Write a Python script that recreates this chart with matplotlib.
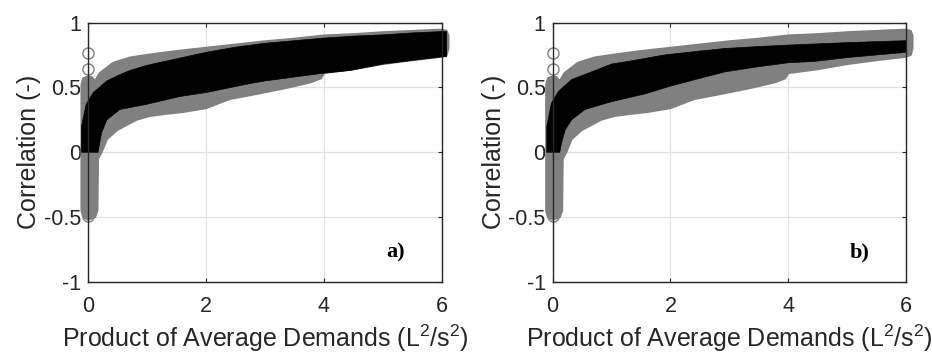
import numpy as np
import matplotlib
matplotlib.use('Agg')
import matplotlib.pyplot as plt

plt.rcParams['font.family'] = ['Liberation Sans', 'DejaVu Sans']
plt.rcParams['mathtext.default'] = 'regular'

# envelope of the grey scatter cloud (same cloud in both panels)
gray_top_x = [-0.11, -0.08, 0.0, 0.06, 0.12, 0.2, 0.43, 0.71, 1.0, 1.5, 2.0, 2.5, 3.0,
              3.5, 4.0, 4.5, 5.0, 5.5, 6.0, 6.08, 6.11]
gray_top_y = [0.52, 0.57, 0.585, 0.58, 0.55, 0.61, 0.69, 0.73, 0.75, 0.78, 0.805, 0.83,
              0.855, 0.875, 0.90, 0.91, 0.925, 0.935, 0.945, 0.935, 0.90]
gray_bot_x = [-0.11, -0.08, 0.0, 0.12, 0.16, 0.17, 0.23, 0.32, 0.49, 0.82, 1.05, 1.3,
              1.6, 2.0, 2.4, 2.75, 3.3, 3.5, 3.78, 3.95, 4.0, 4.5, 5.0, 5.5, 6.0, 6.08, 6.11]
gray_bot_y = [-0.45, -0.5, -0.52, -0.5, -0.45, -0.05, 0.0, 0.1, 0.17, 0.25, 0.28, 0.295,
              0.31, 0.34, 0.41, 0.44, 0.49, 0.51, 0.54, 0.57, 0.61, 0.64, 0.68, 0.71,
              0.736, 0.75, 0.80]

# open outlier circles near x = 0
out_x = [0.0, 0.0, 0.0]
out_y = [0.766, 0.642, -0.495]

# black band, panel a
a_top_x = [-0.11, -0.11, -0.03, 0.09, 0.32, 0.5, 0.71, 1.0, 1.5, 2.0, 2.5, 3.0, 3.5,
           4.0, 4.5, 5.0, 5.5, 6.0, 6.08]
a_top_y = [0.0, 0.2, 0.37, 0.46, 0.55, 0.59, 0.63, 0.67, 0.72, 0.77, 0.81, 0.84, 0.86,
           0.88, 0.895, 0.905, 0.92, 0.93, 0.93]
a_bot_x = [-0.11, 0.17, 0.23, 0.32, 0.54, 1.0, 1.56, 2.0, 2.75, 3.0, 4.0, 4.44, 5.0,
           6.0, 6.08]
a_bot_y = [0.0, 0.0, 0.15, 0.25, 0.33, 0.37, 0.43, 0.46, 0.53, 0.55, 0.61, 0.63, 0.68,
           0.736, 0.736]

# black band, panel b
b_top_x = [-0.1, -0.1, -0.02, 0.1, 0.32, 0.72, 1.0, 1.28, 1.9, 2.5, 2.93, 3.5, 4.0,
           5.0, 6.0]
b_top_y = [0.0, 0.2, 0.38, 0.47, 0.56, 0.63, 0.68, 0.70, 0.75, 0.78, 0.80, 0.815,
           0.826, 0.845, 0.86]
b_bot_x = [-0.1, 0.12, 0.15, 0.21, 0.32, 0.55, 1.0, 1.57, 2.0, 2.5, 2.93, 3.5, 4.0,
           4.45, 5.0, 6.0]
b_bot_y = [0.0, 0.0, 0.07, 0.17, 0.25, 0.33, 0.39, 0.45, 0.51, 0.57, 0.62, 0.66,
           0.69, 0.70, 0.73, 0.77]

panel_labels = ['a)', 'b)']
x_ticks = [0, 2, 4, 6]
y_ticks = [-1, -0.5, 0, 0.5, 1]
y_ticklabels = ['-1', '-0.5', '0', '0.5', '1']

GRAY = '#808080'


def draw_panel(ax, top_x, top_y, bot_x, bot_y, label):
    px = np.concatenate([gray_top_x, gray_bot_x[::-1]])
    py = np.concatenate([gray_top_y, gray_bot_y[::-1]])
    ax.fill(px, py, color=GRAY, lw=1.5, ec=GRAY, joinstyle='round', clip_on=False, zorder=3)

    ax.plot(out_x, out_y, 'o', ms=8, mfc='none', mec=GRAY, mew=1.0, clip_on=False, zorder=4)

    bx = np.concatenate([top_x, bot_x[::-1]])
    by = np.concatenate([top_y, bot_y[::-1]])
    ax.fill(bx, by, color='black', lw=0.5, clip_on=False, zorder=5)

    ax.set_xlim(0, 6)
    ax.set_ylim(-1, 1)
    ax.set_xticks(x_ticks)
    ax.set_yticks(y_ticks)
    ax.set_yticklabels(y_ticklabels)
    ax.grid(True, color='#e2e2e2', lw=0.9, zorder=0)
    ax.set_axisbelow(True)
    ax.tick_params(direction='in', length=3, top=True, right=True, labelsize=15.5,
                   color='#262626', labelcolor='#262626')
    ax.tick_params(axis='x', pad=10)
    ax.tick_params(axis='y', pad=5)
    for s in ax.spines.values():
        s.set_color('#262626')
        s.set_linewidth(1.0)
        s.set_zorder(6)

    ax.set_xlabel(r'Product of Average Demands (L$^2$/s$^2$)', fontsize=18, color='#262626',
                  labelpad=4)
    ax.set_ylabel('Correlation (-)', fontsize=18, color='#262626', labelpad=2)
    ax.text(5.22, -0.77, label, fontsize=16, fontweight='bold', family='Liberation Serif',
            ha='center', va='center', zorder=7)


fig = plt.figure(figsize=(9.32, 3.54), dpi=100)
ax1 = fig.add_axes([0.0944, 0.2034, 0.3798, 0.733])
ax2 = fig.add_axes([0.5930, 0.2034, 0.3791, 0.733])

draw_panel(ax1, a_top_x, a_top_y, a_bot_x, a_bot_y, panel_labels[0])
draw_panel(ax2, b_top_x, b_top_y, b_bot_x, b_bot_y, panel_labels[1])

fig.savefig('out.png', dpi=100)
